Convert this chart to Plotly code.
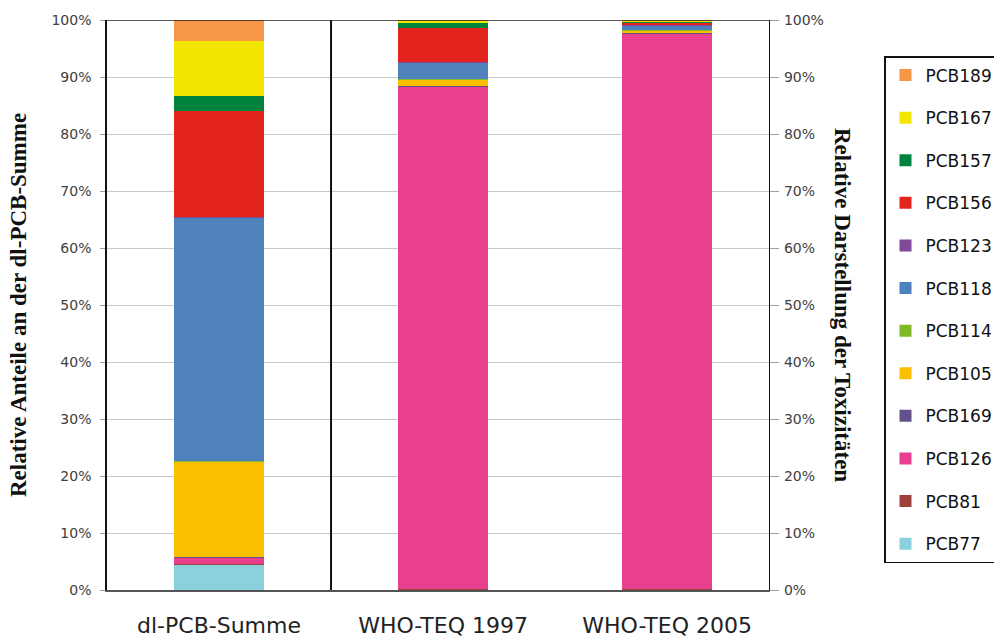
import plotly.graph_objects as go

categories = ["dl-PCB-Summe", "WHO-TEQ 1997", "WHO-TEQ 2005"]

# stacking order bottom -> top
series_names = ["PCB77", "PCB81", "PCB126", "PCB169", "PCB105", "PCB114",
                "PCB118", "PCB123", "PCB156", "PCB157", "PCB167", "PCB189"]
pcb77 = [4.4, 0.05, 0.05]
pcb81 = [0.1, 0.05, 0.05]
pcb126 = [1.2, 88.3, 97.6]
pcb169 = [0.05, 0.1, 0.1]
pcb105 = [16.85, 1.1, 0.4]
pcb114 = [0.1, 0.05, 0.05]
pcb118 = [42.7, 2.85, 0.85]
pcb123 = [0.1, 0.05, 0.1]
pcb156 = [18.5, 6.05, 0.35]
pcb157 = [2.6, 1.0, 0.2]
pcb167 = [9.8, 0.25, 0.15]
pcb189 = [3.6, 0.15, 0.1]
series_values = [pcb77, pcb81, pcb126, pcb169, pcb105, pcb114,
                 pcb118, pcb123, pcb156, pcb157, pcb167, pcb189]
colors = ["#8BD0DD", "#A0403B", "#E8408E", "#64508B", "#FCBF00", "#7FBA27",
          "#4F81BD", "#7F4A9A", "#E3231E", "#00843D", "#F2E600", "#F79646"]

y_ticks = list(range(0, 101, 10))
y_ticktext = [f"{v}%" for v in y_ticks]

fig = go.Figure()
n = len(series_names)
for i, (name, vals, col) in enumerate(zip(series_names, series_values, colors)):
    fig.add_trace(go.Bar(
        x=categories, y=vals, name=name, marker_color=col,
        marker_line_width=0, legendgroup=name, legendrank=100 + (n - i),
        width=0.4,
    ))
# invisible trace for right axis
fig.add_trace(go.Scatter(x=[categories[0]], y=[0], yaxis="y2", showlegend=False,
                         mode="markers", marker_opacity=0, hoverinfo="skip"))

tickfont = dict(family="DejaVu Sans", size=14, color="#404040")
fig.update_layout(
    barmode="stack",
    width=994, height=637,
    margin=dict(l=107, r=225, t=20, b=47, autoexpand=False),
    plot_bgcolor="white", paper_bgcolor="white",
    xaxis=dict(
        type="category", range=[-0.5, 2.455],
        tickfont=dict(family="DejaVu Sans", size=22, color="#222222"),
        ticks="outside", ticklen=0, ticklabelstandoff=15,
        showline=True, linecolor="#555555", linewidth=2,
        showgrid=False, zeroline=False,
    ),
    yaxis=dict(
        range=[0, 100], tickvals=y_ticks, ticktext=y_ticktext,
        tickfont=tickfont, ticks="outside", ticklen=5, tickcolor="#a0a0a0",
        showline=True, linecolor="#111111", linewidth=1.5,
        showgrid=True, gridcolor="#c8c8c8", gridwidth=1,
        zeroline=False, ticklabelstandoff=6,
    ),
    yaxis2=dict(
        range=[0, 100], tickvals=y_ticks, ticktext=y_ticktext,
        overlaying="y", side="right", anchor="x",
        tickfont=tickfont, ticks="outside", ticklen=9, tickcolor="#a0a0a0",
        showline=True, linecolor="#111111", linewidth=1.2,
        showgrid=False, zeroline=False, ticklabelstandoff=2,
    ),
    legend=dict(
        x=(884 - 107) / 662, xanchor="left",
        y=(590 - 56) / 570, yanchor="top",
        traceorder="grouped", tracegroupgap=17.5,
        font=dict(family="DejaVu Sans", size=17, color="#111111"),
        bordercolor="#111111", borderwidth=1.5, bgcolor="white",
    ),
    showlegend=True,
    shapes=[
        dict(type="line", xref="x", yref="y", x0=0.5, x1=0.5, y0=0, y1=100,
             line=dict(color="#111111", width=2)),
        dict(type="line", xref="paper", yref="y", x0=0, x1=1, y0=100, y1=100,
             line=dict(color="#222222", width=1.5)),
    ],
    annotations=[
        dict(text="<b>Relative Anteile an der dl-PCB-Summe</b>", textangle=-90,
             xref="paper", yref="paper", x=(18 - 107) / 662, y=0.5,
             xanchor="center", yanchor="middle", showarrow=False,
             font=dict(family="Liberation Serif", size=23, color="#111111")),
        dict(text="<b>Relative Darstellung der Toxizitäten</b>", textangle=90,
             xref="paper", yref="paper", x=(843 - 107) / 662, y=0.5,
             xanchor="center", yanchor="middle", showarrow=False,
             font=dict(family="Liberation Serif", size=23, color="#111111")),
    ],
)

fig.write_html("out.html", config={"displayModeBar": False},
               post_script="document.body.style.margin='0';")
